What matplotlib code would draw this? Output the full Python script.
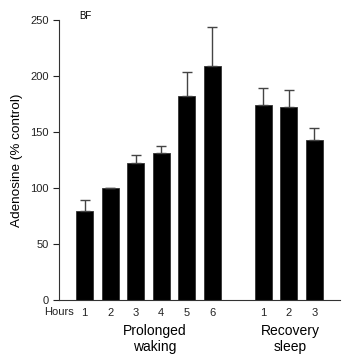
import matplotlib.pyplot as plt

plt.rcParams['font.family'] = ['Liberation Sans', 'DejaVu Sans']

# data
waking_hours = ["1", "2", "3", "4", "5", "6"]
waking_values = [80, 100, 122, 131, 182, 209]
waking_err = [9, 0, 8, 7, 22, 35]
sleep_hours = ["1", "2", "3"]
sleep_values = [174, 172, 143]
sleep_err = [15, 16, 11]

waking_pos = [1, 2, 3, 4, 5, 6]
sleep_pos = [8, 9, 10]

fig = plt.figure(figsize=(3.5, 3.59), dpi=100)
ax = fig.add_axes([0.169, 0.164, 0.802, 0.78])

for pos, vals, errs in [(waking_pos, waking_values, waking_err),
                        (sleep_pos, sleep_values, sleep_err)]:
    ax.bar(pos, vals, width=0.68, color="black", edgecolor="#333333", linewidth=0.6)
    ax.errorbar(pos, vals, yerr=[[0] * len(errs), errs], fmt="none",
                ecolor="#444444", elinewidth=1.0, capsize=3.5, capthick=1.0)

ax.set_xlim(0, 11)
ax.set_ylim(0, 250)
ax.set_yticks([0, 50, 100, 150, 200, 250])
ax.set_xticks(waking_pos + sleep_pos)
ax.set_xticklabels(waking_hours + sleep_hours)
ax.tick_params(axis="x", length=0, pad=6, labelsize=8, colors="#222222")
ax.tick_params(axis="y", length=4, width=0.8, labelsize=8, colors="#222222", direction="out")
for s in ["top", "right"]:
    ax.spines[s].set_visible(False)
for s in ["left", "bottom"]:
    ax.spines[s].set_linewidth(0.8)
    ax.spines[s].set_color("#333333")

ax.set_ylabel("Adenosine (% control)", fontsize=9.7, labelpad=5)
ax.text(0.0, -6, "Hours", ha="center", va="top", fontsize=8, color="#222222")
ax.text(3.75, -21, "Prolonged\nwaking", ha="center", va="top", fontsize=10,
        linespacing=1.25)
ax.text(9.05, -21, "Recovery\nsleep", ha="center", va="top", fontsize=10,
        linespacing=1.25)
ax.text(0.8, 254, "BF", ha="left", va="center", fontsize=7)

fig.savefig("out.png", dpi=100)
